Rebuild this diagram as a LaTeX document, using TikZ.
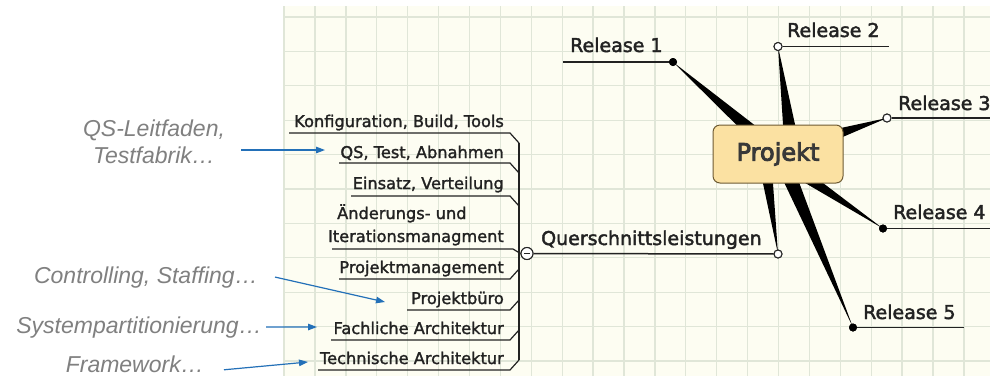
\documentclass[tikz,border=0pt]{standalone}
\usepackage{fontspec}
\setmainfont{DejaVu Sans}
\newfontfamily\mapfont[FakeBold=2.2]{DejaVu Sans}
\newfontfamily\subfont[FakeBold=1.6]{DejaVu Sans}
\newfontfamily\centerfont[FakeBold=3.5]{DejaVu Sans}
\newfontfamily\notefont{Liberation Sans}
\usetikzlibrary{arrows.meta,calc}

\definecolor{paper}{HTML}{FDFDF2}
\definecolor{gridline}{HTML}{E0E6D8}
\definecolor{ink}{HTML}{222222}
\definecolor{boxfill}{HTML}{FBE1A2}
\definecolor{boxline}{HTML}{6E5B34}
\definecolor{notegray}{HTML}{808080}
\definecolor{noteblue}{HTML}{2370B8}

\tikzset{
  topic/.style={font=\mapfont\fontsize{19}{22}\selectfont, text=ink, inner sep=0pt},
  subtopic/.style={font=\subfont\fontsize{16.2}{19}\selectfont, text=ink, inner sep=0pt},
  note/.style={font=\notefont\itshape\fontsize{23}{27}\selectfont, text=notegray, inner sep=0pt},
  uline/.style={draw=ink, line width=1.5pt},
  sline/.style={draw=ink, line width=1.2pt},
  gline/.style={draw=gridline, line width=1.3pt},
  wedge/.style={fill=black},
  enddot/.style={circle, fill=black, minimum size=8pt, inner sep=0pt},
  endring/.style={circle, draw=ink, fill=white, line width=1pt, minimum size=8pt, inner sep=0pt},
  notearrow/.style={draw=noteblue, line width=1.2pt, -{Triangle[length=9pt,width=6.5pt]}},
}

% tapered branch: base point, end node, half width at the base
\newcommand\mmwedge[3]{%
  \fill[wedge] ($(#1)!#3!90:(#2.center)$) -- (#2.center) -- ($(#1)!#3!-90:(#2.center)$) -- cycle;}

\begin{document}
\begin{tikzpicture}[x=1pt,y=-1pt]
\useasboundingbox (0,0) rectangle (990,376);
\fill[white] (0,0) rectangle (990,376);

% map canvas with grid
\fill[paper] (283,6) rectangle (990,376);
\draw[gline] (284,6) -- (284,376);
\foreach \k in {0,...,21}
  \draw[gline] ({315+30.9*\k},6) -- ({315+30.9*\k},376);
\foreach \k in {0,...,10}
  \draw[gline] (283,{17+34.4*\k}) -- (990,{17+34.4*\k});

% branch end points
\coordinate (b1) at (754,133);
\coordinate (b2) at (790.7,137);
\coordinate (b3) at (831.6,135.7);
\coordinate (b4) at (805,176.4);
\coordinate (b5) at (787.3,171.9);
\coordinate (bq) at (766.3,171.1);

\node[enddot] (r1dot) at (673,62) {};
\node[endring] (r2ring) at (778,46.5) {};
\node[endring] (r3ring) at (887,118) {};
\node[enddot] (r4dot) at (883,228.5) {};
\node[enddot] (r5dot) at (853,327.5) {};
\node[endring] (qring) at (778,254) {};

% tapered branches
\mmwedge{b1}{r1dot}{6.6pt}
\mmwedge{b2}{r2ring}{6.9pt}
\mmwedge{b3}{r3ring}{5.6pt}
\mmwedge{b4}{r4dot}{5.6pt}
\mmwedge{b5}{r5dot}{7.4pt}
\mmwedge{bq}{qring}{5.8pt}

% central topic
\node[draw=boxline, fill=boxfill, rounded corners=7pt, line width=1pt,
      minimum width=130pt, minimum height=58pt,
      font=\centerfont\fontsize{24}{28}\selectfont, text=ink!90] (projekt) at (778,154) {Projekt};

% fold button of the cross-section branch
\node[circle, draw=ink, fill=white, line width=1pt, minimum size=12pt, inner sep=0pt] (fold) at (527,253.5) {};

% underlines of the main topics
\draw[uline] (563,62) -- (r1dot.center);
\draw[uline] (r2ring) -- (889,46.5);
\draw[uline] (r3ring) -- (990,118);
\draw[uline] (r4dot.center) -- (990,228.5);
\draw[uline] (r5dot.center) -- (964,327.5);
\draw[uline] (fold) -- (qring);

% redraw markers on top of the lines
\node[enddot] at (r1dot) {};
\node[endring] at (r2ring) {};
\node[endring] at (r3ring) {};
\node[enddot] at (r4dot) {};
\node[enddot] at (r5dot) {};
\node[endring] at (qring) {};

% main topic labels
\node[topic, anchor=base west] (rel1) at (570,52) {Release 1};
\node[topic, anchor=base west] (rel2) at (787,37) {Release 2};
\node[topic, anchor=base west] (rel3) at (898,110) {Release 3};
\node[topic, anchor=base west] (rel4) at (893,219) {Release 4};
\node[topic, anchor=base west] (rel5) at (863,319) {Release 5};
\node[topic, anchor=base west] (quer) at (541,245) {Querschnittsleistungen};

% subtopics of the cross-section branch
\node[subtopic, anchor=base east] (konf) at (504,127) {Konfiguration, Build, Tools};
\node[subtopic, anchor=base east] (qs) at (504,158) {QS, Test, Abnahmen};
\node[subtopic, anchor=base east] (einsatz) at (504,189) {Einsatz, Verteilung};
\node[subtopic, anchor=base west] (aend) at (337,219) {Änderungs- und};
\node[subtopic, anchor=base east] (iter) at (504,242) {Iterationsmanagment};
\node[subtopic, anchor=base east] (pm) at (504,273) {Projektmanagement};
\node[subtopic, anchor=base east] (pb) at (504,304) {Projektbüro};
\node[subtopic, anchor=base east] (fa) at (504,334) {Fachliche Architektur};
\node[subtopic, anchor=base east] (ta) at (504,364) {Technische Architektur};

% subtopic underlines joined to the spine
\draw[sline] (289,133) -- (510,133) -- (519,143);
\draw[sline] (339,163) -- (510,163) -- (519,173);
\draw[sline] (351,196) -- (510,196) -- (519,206);
\draw[sline] (332,249) -- (513,249) -- (fold.west);
\draw[sline] (339,279) -- (510,279) -- (519,269);
\draw[sline] (407,310) -- (510,310) -- (519,300);
\draw[sline] (331,340) -- (510,340) -- (519,330);
\draw[sline] (318,370) -- (510,370) -- (519,360);
\draw[sline] (519,143) -- (519,360);
\node[circle, draw=ink, fill=white, line width=1pt, minimum size=12pt, inner sep=0pt] at (fold) {};
\draw[ink, line width=1pt] ([xshift=-3pt]fold.center) -- ([xshift=3pt]fold.center);

% side notes
\node[note, anchor=north, align=center] (qsnote) at (154,120) {QS-Leitfaden,\\Testfabrik…};
\node[note, anchor=base east] (ctrlnote) at (258,283) {Controlling, Staffing…};
\node[note, anchor=base east] (sysnote) at (262,333) {Systempartitionierung…};
\node[note, anchor=base east] (fwnote) at (204,372) {Framework…};

\coordinate (qstip) at (325,150);
\coordinate (ctrltip) at (385,302);
\coordinate (systip) at (317,327);
\coordinate (fwtip) at (308,362);

\draw[notearrow] ($(qsnote.east |- qstip)+(16,0)$) -- (qstip);
\draw[notearrow] ($(ctrlnote.east)+(17,0)$) -- (ctrltip);
\draw[notearrow] ($(sysnote.east)+(4,0)$) -- (systip);
\draw[notearrow] ($(fwnote.east)+(20,6)$) -- (fwtip);
\end{tikzpicture}
\end{document}
